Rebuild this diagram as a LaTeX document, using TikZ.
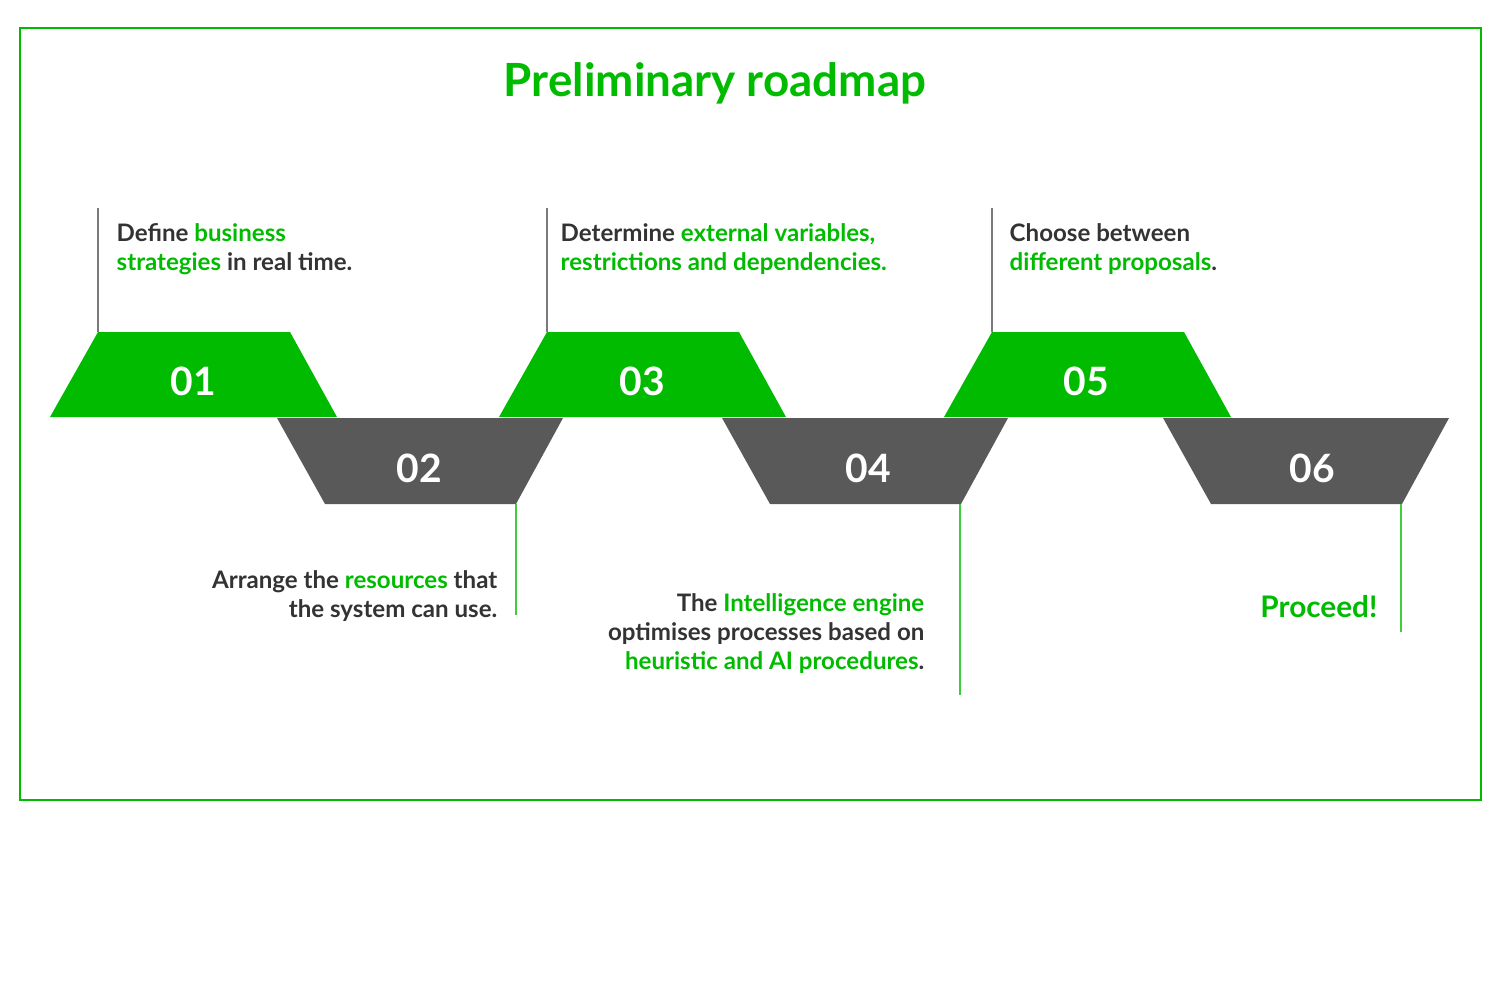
\documentclass[tikz,border=0pt]{standalone}
\usepackage{fontspec}
\setmainfont{Lato}
\usepackage{tikz}
\usetikzlibrary{positioning}
\definecolor{vert}{RGB}{0,187,0}
\definecolor{gris}{RGB}{89,89,89}
\definecolor{encre}{RGB}{51,51,51}
\newcommand{\vt}[1]{\textcolor{vert}{#1}}

\begin{document}
\begin{tikzpicture}[x=0.01cm, y=-0.01cm,
	haut/.style={fill=vert},
	bas/.style={fill=gris},
	num/.style={text=white, font=\fontsize{11.1}{13}\selectfont\bfseries, inner sep=0},
	note/.style={text=encre, font=\fontsize{6.85}{8.2}\selectfont\bfseries, inner sep=0},
	tige/.style={draw=gris!80, line width=0.45pt},
	tigev/.style={draw=vert!75, line width=0.45pt}
	]
	\useasboundingbox (0,0) rectangle (1500,1000);
	\draw[vert, line width=0.7pt] (20,28) rectangle (1481,800);
	\node[text=vert, font=\fontsize{13}{15}\selectfont\bfseries, anchor=base] (titre) at (715,97) {Preliminary roadmap};
	
	% Trapezes verts (en haut)
	\foreach \x in {50, 499, 944}
	\fill[haut] (\x,417) -- ++(48,-85) -- ++(192,0) -- ++(47,85) -- cycle;
	% Trapezes gris (en bas)
	\foreach \x in {277, 722, 1163}
	\fill[bas] (\x,418) -- ++(286,0) -- ++(-47,86) -- ++(-191,0) -- cycle;
	
	% Numeros
	\foreach \n/\x/\y in {01/193/381, 02/419/468, 03/642/381, 04/868/468, 05/1086/381, 06/1312/468}
	\node[num] (n\n) at (\x,\y) {\n};
	
	% Tiges
	\foreach \n/\x in {01/98, 03/547, 05/992} {
		\coordinate (p\n) at (\x,332);
		\coordinate (q\n) at (\x,208);
		\draw[tige] (p\n) -- (q\n);
	}
	\foreach \n/\x/\y in {02/516/615, 04/960/695, 06/1401/632} {
		\coordinate (p\n) at (\x,504);
		\coordinate (q\n) at (\x,\y);
		\draw[tigev] (p\n) -- (q\n);
	}
	
	% Textes du haut
	\node[note, anchor=north west, align=left] (t01) at (116,223) {Define \vt{business}\\\vt{strategies} in real time.};
	\node[note, anchor=north west, align=left] (t03) at (560,223) {Determine \vt{external variables,}\\\vt{restrictions and dependencies.}};
	\node[note, anchor=north west, align=left] (t05) at (1009,223) {Choose between\\\vt{different proposals}.};
	
	% Textes du bas
	\node[note, anchor=north east, align=right] (t02) at (498,570) {Arrange the \vt{resources} that\\the system can use.};
	\node[note, anchor=north east, align=right] (t04) at (925,593) {The \vt{Intelligence engine}\\optimises processes based on\\\vt{heuristic and AI procedures}.};
	\node[text=vert, font=\fontsize{8.45}{10}\selectfont\bfseries, inner sep=0, anchor=base east] (t06) at (1378,617) {Proceed!};
\end{tikzpicture}
\end{document}
